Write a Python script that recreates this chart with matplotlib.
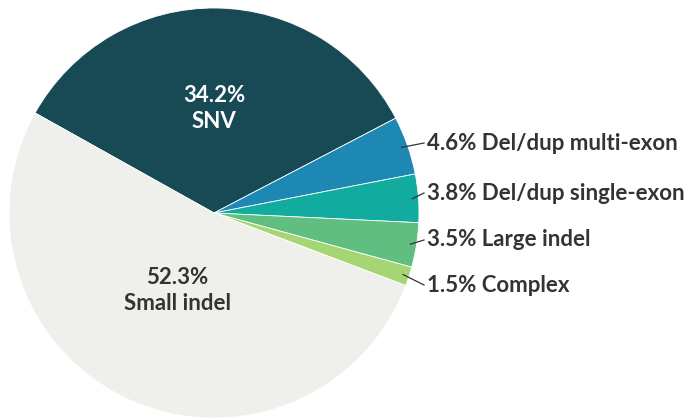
import numpy as np
import matplotlib.pyplot as plt

plt.rcParams['font.family'] = ['Lato', 'DejaVu Sans']

labels = ["SNV", "Del/dup multi-exon", "Del/dup single-exon", "Large indel", "Complex", "Small indel"]
values = [34.2, 4.6, 3.8, 3.5, 1.5, 52.3]
colors = ["#174a55", "#1e88b4", "#12ab9f", "#60bf80", "#a6d574", "#efefeb"]

H = 420  # figure height in px, used to flip pixel y to data y

fig = plt.figure(figsize=(6.96, 4.2), dpi=100)
ax = fig.add_axes([0, 0, 1, 1])

cx, cy, r = 214, H - 213, 205
start = 150.8
wedges, _ = ax.pie(values, colors=colors, startangle=start, counterclock=False,
                   center=(cx, cy), radius=r, frame=True,
                   wedgeprops=dict(linewidth=0.6, edgecolor="white"))
ax.set_xlim(0, 696)
ax.set_ylim(0, H)
ax.set_aspect("equal")
ax.axis("off")

dark = "#333333"
fs = 16

# inner labels
ax.text(214, H - 95, "34.2%", color="white", fontsize=fs, fontweight="bold", ha="center", va="center")
ax.text(214, H - 121, "SNV", color="white", fontsize=fs, fontweight="bold", ha="center", va="center")
ax.text(177, H - 278, "52.3%", color=dark, fontsize=fs, fontweight="bold", ha="center", va="center")
ax.text(177, H - 304, "Small indel", color=dark, fontsize=fs, fontweight="bold", ha="center", va="center")

# outside labels with leader lines
label_y = [143, 193, 240, 285]
for i, ty in zip(range(1, 5), label_y):
    w = wedges[i]
    mid = np.deg2rad((w.theta1 + w.theta2) / 2)
    px = cx + 0.97 * r * np.cos(mid)
    py = cy + 0.97 * r * np.sin(mid)
    ax.plot([px, 424], [py, H - ty], color=dark, lw=0.9)
    ax.text(427, H - ty, f"{values[i]}% {labels[i]}", color=dark, fontsize=fs,
            fontweight="bold", ha="left", va="center")

fig.savefig("out.png", dpi=100)
